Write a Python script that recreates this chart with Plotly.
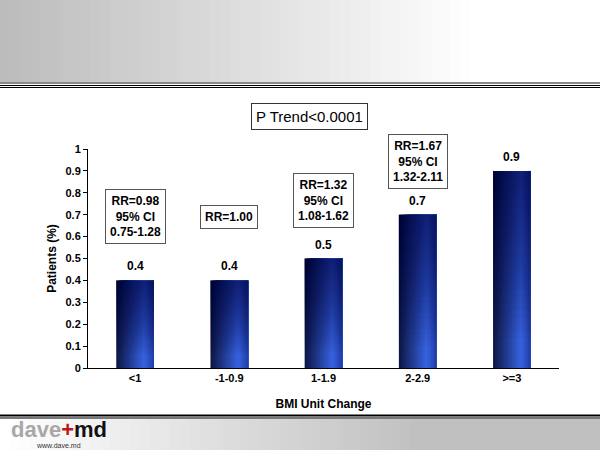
import plotly.graph_objects as go

categories = ["<1", "-1-0.9", "1-1.9", "2-2.9", ">=3"]
patients = [0.4, 0.4, 0.5, 0.7, 0.9]
value_labels = ["0.4", "0.4", "0.5", "0.7", "0.9"]
rr_labels = [
    "RR=0.98<br>95% CI<br>0.75-1.28",
    "RR=1.00",
    "RR=1.32<br>95% CI<br>1.08-1.62",
    "RR=1.67<br>95% CI<br>1.32-2.11",
    "RR=2.09<br>95% CI<br>1.68-2.61",
]
rr_y = [0.694, 0.69, 0.765, 0.945, 1.13]
y_ticks = [0, 0.1, 0.2, 0.3, 0.4, 0.5, 0.6, 0.7, 0.8, 0.9, 1]
y_tick_labels = ["0", "0.1", "0.2", "0.3", "0.4", "0.5", "0.6", "0.7", "0.8", "0.9", "1"]

W, H = 600, 450
L, R, T, B = 88, 41, 149, 82
PW, PH = W - L - R, H - T - B
FONT = "Liberation Sans, Arial"


def px(x):
    return (x - L) / PW


def py(y):
    return (H - B - y) / PH


def lerp(c1, c2, t):
    return "rgb(%d,%d,%d)" % tuple(round(a + (b - a) * t) for a, b in zip(c1, c2))


fig = go.Figure()

# bars drawn as overlaid strips (each reaching the right edge) to simulate a gradient
N = 20
bar_w = 0.4
dark = (14, 24, 72)
light = (55, 98, 225)
edge = (35, 65, 170)
for i in range(N):
    t = i / (N - 1)
    if t < 0.75:
        c = lerp(dark, light, t / 0.75)
    else:
        c = lerp(light, edge, (t - 0.75) / 0.25)
    fig.add_trace(go.Bar(
        x=categories, y=patients, width=bar_w - i * bar_w / N,
        offset=-bar_w / 2 + i * bar_w / N,
        marker=dict(color=c, line=dict(width=0)),
        hoverinfo="skip", showlegend=False,
    ))

# soft vertical shading: darker toward top
for k in range(24):
    f = 0.15 + k * 0.035
    fig.add_trace(go.Bar(
        x=categories, y=[p * (1 - f) for p in patients], base=[p * f for p in patients],
        width=bar_w, offset=-bar_w / 2,
        marker=dict(color="rgba(8,14,50,0.035)", line=dict(width=0)),
        hoverinfo="skip", showlegend=False,
    ))

fig.update_layout(barmode="overlay")

annotations = []
# value labels
for cat, v, lab in zip(categories, patients, value_labels):
    annotations.append(dict(
        x=cat, y=v, xref="x", yref="y", text="<b>" + lab + "</b>", yanchor="bottom",
        yshift=5, showarrow=False, font=dict(family=FONT, size=12, color="black"),
    ))
for cat, lab, yy in zip(categories, rr_labels, rr_y):
    annotations.append(dict(
        x=cat, y=yy, xref="x", yref="y", text="<b>" + lab + "</b>",
        xanchor="center", yanchor="middle",
        showarrow=False, font=dict(family=FONT, size=12, color="black"),
        bordercolor="#555555", borderwidth=1, borderpad=4, bgcolor="white", align="center",
    ))
annotations.append(dict(
    x=px(309), y=py(116), xref="paper", yref="paper", text="P Trend<0.0001",
    xanchor="center", yanchor="middle",
    showarrow=False, font=dict(family=FONT, size=15, color="black"),
    bordercolor="#333333", borderwidth=1, borderpad=4, bgcolor="white",
))
# footer logo
annotations.append(dict(
    x=px(9), y=py(429), xref="paper", yref="paper", xanchor="left", yanchor="middle",
    text="<b><span style='color:#a8a8a8'>dave</span><span style='color:#c01818'>+</span><span style='color:#111111'>md</span></b>",
    showarrow=False, font=dict(family=FONT, size=22),
))
annotations.append(dict(
    x=px(34), y=py(445), xref="paper", yref="paper", xanchor="left", yanchor="middle",
    text="www.dave.md", showarrow=False,
    font=dict(family=FONT, size=7, color="#333333"),
))

shapes = []
NS = 60
# header gradient
for i in range(NS):
    t = i / (NS - 1)
    g = round(188 + (255 - 188) * min(1, t / 0.8))
    shapes.append(dict(type="rect", xref="paper", yref="paper",
                       x0=px(i * W / NS), x1=px((i + 1) * W / NS + 1),
                       y0=py(0), y1=py(83), fillcolor="rgb(%d,%d,%d)" % (g, g, g),
                       line=dict(width=0), layer="below"))
# footer gradient
for i in range(NS):
    t = i / (NS - 1)
    g = round(255 - (255 - 192) * min(1, t / 0.7))
    shapes.append(dict(type="rect", xref="paper", yref="paper",
                       x0=px(i * W / NS), x1=px((i + 1) * W / NS + 1),
                       y0=py(419), y1=py(450), fillcolor="rgb(%d,%d,%d)" % (g, g, g),
                       line=dict(width=0), layer="below"))
# header lines
shapes.append(dict(type="line", xref="paper", yref="paper", x0=px(0), x1=px(W),
                   y0=py(83), y1=py(83), line=dict(color="#888888", width=2)))
shapes.append(dict(type="line", xref="paper", yref="paper", x0=px(0), x1=px(W),
                   y0=py(85.5), y1=py(85.5), line=dict(color="black", width=1.2)))
shapes.append(dict(type="line", xref="paper", yref="paper", x0=px(0), x1=px(W),
                   y0=py(87.5), y1=py(87.5), line=dict(color="black", width=1)))
# footer lines
shapes.append(dict(type="line", xref="paper", yref="paper", x0=px(0), x1=px(W),
                   y0=py(415.5), y1=py(415.5), line=dict(color="black", width=2)))
shapes.append(dict(type="line", xref="paper", yref="paper", x0=px(0), x1=px(W),
                   y0=py(418), y1=py(418), line=dict(color="#777777", width=2)))

fig.update_layout(
    width=W, height=H,
    margin=dict(l=L, r=R, t=T, b=B, pad=0),
    paper_bgcolor="white", plot_bgcolor="white",
    annotations=annotations, shapes=shapes,
    xaxis=dict(
        type="category", range=[-0.5, 4.5], showline=True, linecolor="black", linewidth=1,
        ticks="", showgrid=False, zeroline=False,
        tickfont=dict(family=FONT, size=11, color="black", weight="bold"),
        title=dict(text="<b>BMI Unit Change</b>", standoff=16,
                   font=dict(family=FONT, size=12, color="black")),
    ),
    yaxis=dict(
        range=[0, 1], tickvals=y_ticks, ticktext=y_tick_labels,
        showline=True, linecolor="black", linewidth=1, ticks="outside", ticklen=4,
        tickcolor="black", showgrid=False, zeroline=False,
        tickfont=dict(family=FONT, size=11, color="black", weight="bold"),
        title=dict(text="<b>Patients (%)</b>", standoff=6,
                   font=dict(family=FONT, size=12, color="black")),
    ),
)

fig.write_html("out.html")
